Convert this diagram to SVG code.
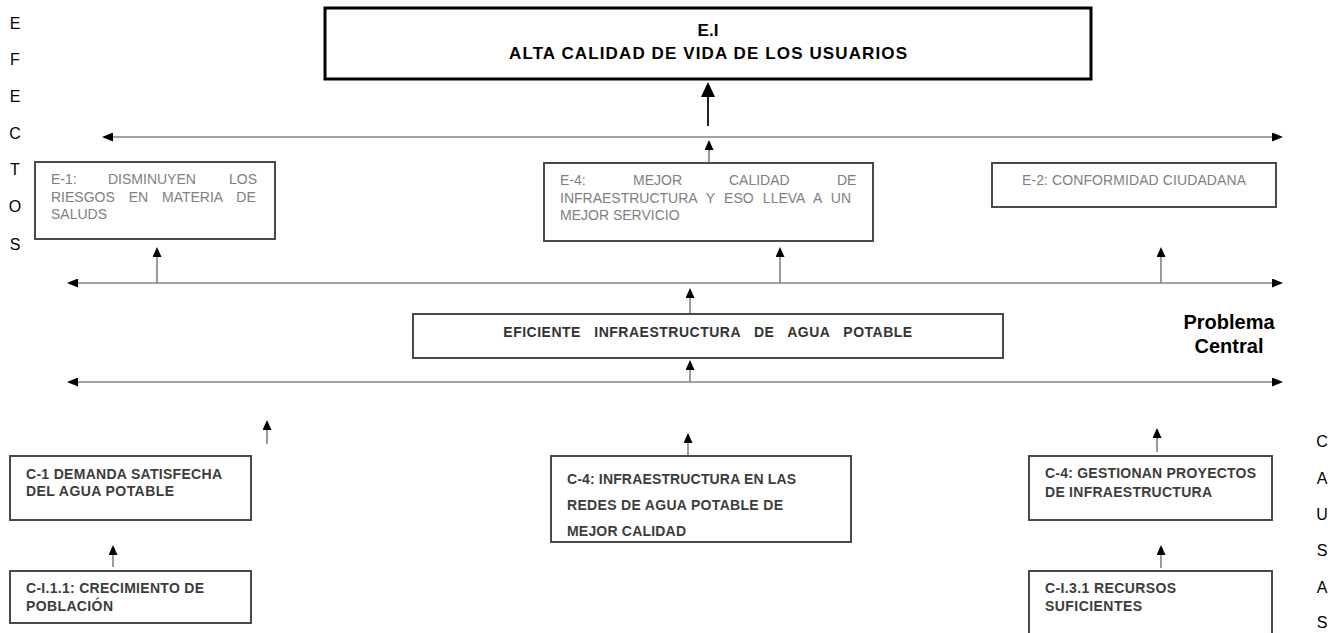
<svg xmlns="http://www.w3.org/2000/svg" width="1338" height="633" viewBox="0 0 1338 633">
<style>
text{font-family:"Liberation Sans",Arial,sans-serif}
.side{font-size:16px;fill:#000;text-anchor:middle}
.box{fill:#fff;stroke:#4a4a4a;stroke-width:2}
.top{fill:#fff;stroke:#000;stroke-width:3}
.et{font-size:14px;fill:#808080}
.ct{font-size:14px;font-weight:bold;fill:#3c3c3c}
.hl{fill:none;stroke:#a3a3a3;stroke-width:2;marker-start:url(#ah);marker-end:url(#ah)}
.vl{fill:none;stroke:#7a7a7a;stroke-width:1.5;marker-end:url(#av)}
</style>
<defs>
<marker id="ah" viewBox="0 0 11 9" markerWidth="11" markerHeight="9" refX="0" refY="4.5" orient="auto-start-reverse" markerUnits="userSpaceOnUse"><path d="M0,0 L11,4.5 L0,9 z" fill="#000"/></marker>
<marker id="av" viewBox="0 0 10 9" markerWidth="10" markerHeight="9" refX="0" refY="4.5" orient="auto" markerUnits="userSpaceOnUse"><path d="M0,0 L10,4.5 L0,9 z" fill="#000"/></marker>
<marker id="avb" viewBox="0 0 15 14" markerWidth="15" markerHeight="14" refX="0" refY="7" orient="auto" markerUnits="userSpaceOnUse"><path d="M0,0 L15,7 L0,14 z" fill="#000"/></marker>
</defs>
<rect width="1338" height="633" fill="#fff"/>

<g id="efectos-label">
<text class="side" x="15" y="29">E</text>
<text class="side" x="15" y="65">F</text>
<text class="side" x="15" y="102">E</text>
<text class="side" x="15" y="139">C</text>
<text class="side" x="15" y="175">T</text>
<text class="side" x="15" y="212">O</text>
<text class="side" x="15" y="250">S</text>
</g>
<g id="causas-label">
<text class="side" x="1322" y="447">C</text>
<text class="side" x="1322" y="484">A</text>
<text class="side" x="1322" y="520">U</text>
<text class="side" x="1322" y="556">S</text>
<text class="side" x="1322" y="593">A</text>
<text class="side" x="1322" y="628">S</text>
</g>

<g id="connectors">
<path class="hl" d="M113,137 H1272"/>
<path class="hl" d="M78,283 H1272"/>
<path class="hl" d="M78,382 H1272"/>
<path d="M708,126 V97" fill="none" stroke="#222" stroke-width="2" marker-end="url(#avb)"/>
<path class="vl" d="M709,163 V150"/>
<path class="vl" d="M157,283 V257"/>
<path class="vl" d="M780,283 V257"/>
<path class="vl" d="M1161,283 V257"/>
<path class="vl" d="M690,314 V298"/>
<path class="vl" d="M690,382 V370"/>
<path class="vl" d="M267,444 V430"/>
<path class="vl" d="M688,456 V443"/>
<path class="vl" d="M1157,452 V438"/>
<path class="vl" d="M113,567 V555"/>
<path class="vl" d="M1161,568 V555"/>
</g>

<g id="EI">
<rect class="top" x="325" y="8" width="766" height="71"/>
<text x="708" y="36" font-size="17" font-weight="bold" text-anchor="middle">E.I</text>
<text x="708" y="59" font-size="17" font-weight="bold" text-anchor="middle" textLength="398" lengthAdjust="spacing">ALTA CALIDAD DE VIDA DE LOS USUARIOS</text>
</g>

<g id="E1">
<rect class="box" x="35" y="162" width="240" height="77"/>
<text class="et" y="184"><tspan x="51">E-1:</tspan><tspan x="108">DISMINUYEN</tspan><tspan x="229">LOS</tspan></text>
<text class="et" x="51" y="202" word-spacing="10">RIESGOS EN MATERIA DE</text>
<text class="et" x="51" y="219">SALUDS</text>
</g>

<g id="E4">
<rect class="box" x="544" y="163" width="329" height="78"/>
<text class="et" y="185"><tspan x="560">E-4:</tspan><tspan x="633">MEJOR</tspan><tspan x="729">CALIDAD</tspan><tspan x="837">DE</tspan></text>
<text class="et" x="560" y="203" word-spacing="5.3">INFRAESTRUCTURA Y ESO LLEVA A UN</text>
<text class="et" x="560" y="220">MEJOR SERVICIO</text>
</g>

<g id="E2">
<rect class="box" x="992" y="163" width="284" height="44"/>
<text class="et" x="1134" y="185" text-anchor="middle" textLength="224" lengthAdjust="spacing">E-2: CONFORMIDAD CIUDADANA</text>
</g>

<g id="problema">
<rect class="box" x="413" y="314" width="590" height="44" stroke-width="2.5"/>
<text x="708" y="337" font-size="14" font-weight="bold" fill="#333" text-anchor="middle" letter-spacing="0.5" word-spacing="9">EFICIENTE INFRAESTRUCTURA DE AGUA POTABLE</text>
</g>

<g id="problema-central-label">
<text x="1229" y="329" font-size="20" font-weight="bold" text-anchor="middle">Problema</text>
<text x="1229" y="353" font-size="20" font-weight="bold" text-anchor="middle">Central</text>
</g>

<g id="C1">
<rect class="box" x="10" y="456" width="241" height="64"/>
<text class="ct" x="26" y="479" textLength="196" lengthAdjust="spacing">C-1 DEMANDA SATISFECHA</text>
<text class="ct" x="26" y="496" textLength="148" lengthAdjust="spacing">DEL AGUA POTABLE</text>
</g>

<g id="CI11">
<rect class="box" x="10" y="571" width="241" height="52"/>
<text class="ct" x="26" y="593" textLength="178" lengthAdjust="spacing">C-I.1.1: CRECIMIENTO DE</text>
<text class="ct" x="26" y="611" textLength="87" lengthAdjust="spacing">POBLACIÓN</text>
</g>

<g id="C4a">
<rect class="box" x="551" y="456" width="300" height="86"/>
<text class="ct" x="567" y="484" textLength="229" lengthAdjust="spacing">C-4: INFRAESTRUCTURA EN LAS</text>
<text class="ct" x="567" y="510" textLength="216" lengthAdjust="spacing">REDES DE AGUA POTABLE DE</text>
<text class="ct" x="567" y="536" textLength="119" lengthAdjust="spacing">MEJOR CALIDAD</text>
</g>

<g id="C4b">
<rect class="box" x="1029" y="456" width="243" height="64"/>
<text class="ct" x="1045" y="478" textLength="211" lengthAdjust="spacing">C-4: GESTIONAN PROYECTOS</text>
<text class="ct" x="1045" y="497" textLength="167" lengthAdjust="spacing">DE INFRAESTRUCTURA</text>
</g>

<g id="CI31">
<rect class="box" x="1029" y="571" width="243" height="70"/>
<text class="ct" x="1045" y="593" textLength="131" lengthAdjust="spacing">C-I.3.1 RECURSOS</text>
<text class="ct" x="1045" y="611" textLength="97" lengthAdjust="spacing">SUFICIENTES</text>
</g>
</svg>
